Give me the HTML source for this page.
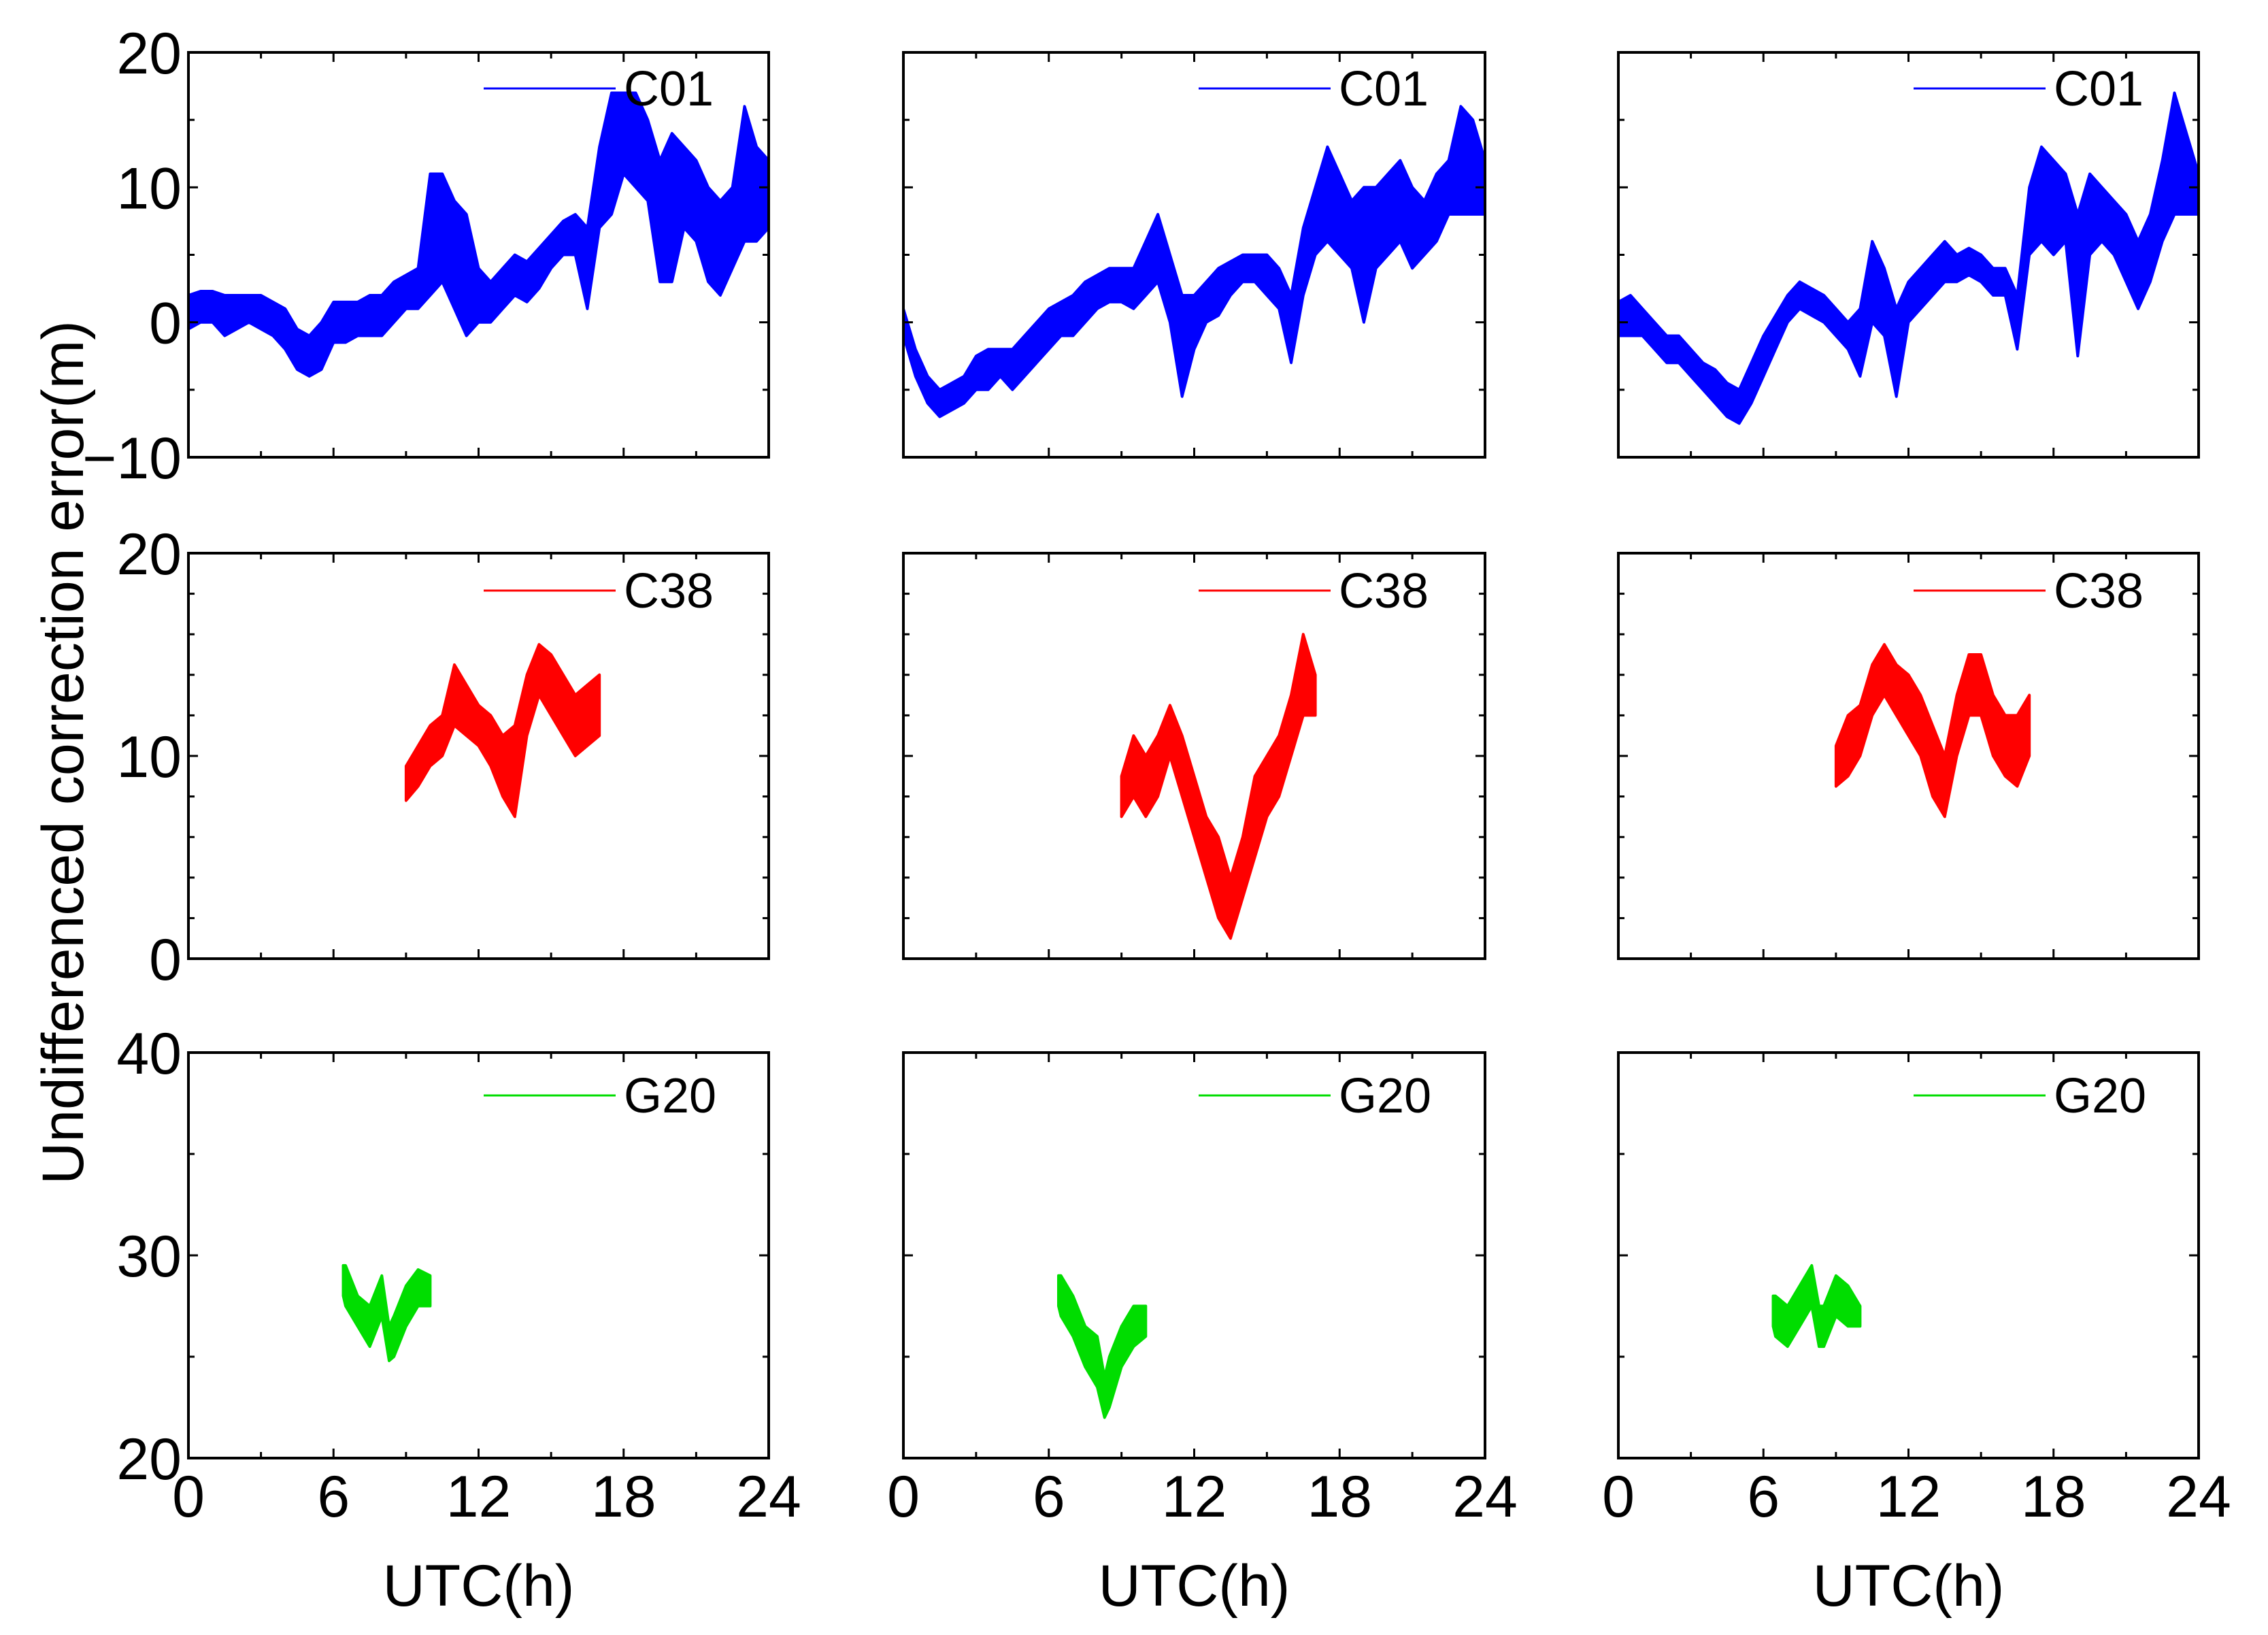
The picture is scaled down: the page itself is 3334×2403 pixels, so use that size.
<!DOCTYPE html>
<html><head><meta charset="utf-8"><style>
html,body{margin:0;padding:0;background:#fff;}
svg{display:block;}
text{font-family:"Liberation Sans",Arial,sans-serif;fill:#000;}
</style></head><body>
<svg id="fig" width="3334" height="2403" viewBox="0 0 3334 2403" xmlns="http://www.w3.org/2000/svg">
<rect x="0" y="0" width="3334" height="2403" fill="#fff"/>
<text x="0" y="0" font-size="86" text-anchor="middle" transform="translate(122,1106) rotate(-90)">Undifferenced correction error(m)</text>
</svg>
<script>
// ---- data ----
const hoursHalf = [0,0.5,1,1.5,2,2.5,3,3.5,4,4.5,5,5.5,6,6.5,7,7.5,8,8.5,9,9.5,10,10.5,11,11.5,12,12.5,13,13.5,14,14.5,15,15.5,16,16.5,17,17.5,18,18.5,19,19.5,20,20.5,21,21.5,22,22.5,23,23.5,24];
const c01aLo = [-0.5,0,0,-1,-0.5,0,-0.5,-1,-2,-3.5,-4,-3.5,-1.5,-1.5,-1,-1,-1,0,1,1,2,3,1,-1,0,0,1,2,1.5,2.5,4,5,5,1,7,8,11,10,9,3,3,7,6,3,2,4,6,6,7];
const c01aHi = [2,2.3,2.3,2,2,2,2,1.5,1,-0.5,-1,0,1.5,1.5,1.5,2,2,3,3.5,4,11,11,9,8,4,3,4,5,4.5,5.5,6.5,7.5,8,7,13,17,17,17,15,12,14,13,12,10,9,10,16,13,12];
const c01bLo = [-1,-4,-6,-7,-6.5,-6,-5,-5,-4,-5,-4,-3,-2,-1,-1,0,1,1.5,1.5,1,2,3,0,-5.5,-2,0,0.5,2,3,3,2,1,-3,2,5,6,5,4,0,4,5,6,4,5,6,8,8,8,8];
const c01bHi = [1,-2,-4,-5,-4.5,-4,-2.5,-2,-2,-2,-1,0,1,1.5,2,3,3.5,4,4,4,6,8,5,2,2,3,4,4.5,5,5,5,4,2,7,10,13,11,9,10,10,11,12,10,9,11,12,16,15,12];
const c01cLo = [-1,-1,-1,-2,-3,-3,-4,-5,-6,-7,-7.5,-6,-4,-2,0,1,0.5,0,-1,-2,-4,0,-1,-5.5,0,1,2,3,3,3.5,3,2,2,-2,5,6,5,6,-2.5,5,6,5,3,1,3,6,8,8,8];
const c01cHi = [1.5,2,1,0,-1,-1,-2,-3,-3.5,-4.5,-5,-3,-1,0.5,2,3,2.5,2,1,0,1,6,4,1,3,4,5,6,5,5.5,5,4,4,2,10,13,12,11,8,11,10,9,8,6,8,12,17,14,11];

const c38Hours = [9,9.5,10,10.5,11,11.5,12,12.5,13,13.5,14,14.5,15,15.5,16,16.5,17];
const c38aLo = [7.8,8.5,9.5,10,11.5,11,10.5,9.5,8,7,11,13,12,11,10,10.5,11];
const c38aHi = [9.5,10.5,11.5,12,14.5,13.5,12.5,12,11,11.5,14,15.5,15,14,13,13.5,14];
const c38bLo = [7,8,7,8,10,8,6,4,2,1,3,5,7,8,10,12,12];
const c38bHi = [9,11,10,11,12.5,11,9,7,6,4,6,9,10,11,13,16,14];
const c38cLo = [8.5,9,10,12,13,12,11,10,8,7,10,12,12,10,9,8.5,10];
const c38cHi = [10.5,12,12.5,14.5,15.5,14.5,14,13,11.5,10,13,15,15,13,12,12,13];

const g20Hours = [6.4,6.5,7,7.5,8,8.3,8.5,9,9.5,10];
const g20aLo = [28,27.5,26.5,25.5,27,24.8,25,26.5,27.5,27.5];
const g20aHi = [29.5,29.5,28,27.5,29,26.5,27,28.5,29.3,29];
const g20bLo = [27.5,27,26,24.5,23.5,22,22.5,24.5,25.5,26];
const g20bHi = [29,29,28,26.5,26,24,25,26.5,27.5,27.5];
const g20cLo = [26.5,26,25.5,26.5,27.5,25.5,25.5,27,26.5,26.5];
const g20cHi = [28,28,27.5,28.5,29.5,27.5,27.5,29,28.5,27.5];

const xTicks = ['0','6','12','18','24'];
const rowYTicks = [['20','10','0','\u221210'],['20','10','0'],['40','30','20']];

// ---- layout ----
const NS='http://www.w3.org/2000/svg';
const svg=document.getElementById('fig');
const colX=[[277,1130],[1328,2183],[2379,3232]];
const rowY=[[77,672],[813,1409],[1547,2143]];
const rowDom=[[-10,20],[0,20],[20,40]];
const rowMinor=[5,2,5];
const rowMajor=[10,10,10];
const colors=['#0000ff','#ff0000','#00dd00'];
const legNames=['C01','C38','G20'];
const series=[
 [[hoursHalf,c01aLo,c01aHi],[hoursHalf,c01bLo,c01bHi],[hoursHalf,c01cLo,c01cHi]],
 [[c38Hours,c38aLo,c38aHi],[c38Hours,c38bLo,c38bHi],[c38Hours,c38cLo,c38cHi]],
 [[g20Hours,g20aLo,g20aHi],[g20Hours,g20bLo,g20bHi],[g20Hours,g20cLo,g20cHi]]
];
function mk(tag,attrs,parent){const e=document.createElementNS(NS,tag);for(const k in attrs)e.setAttribute(k,attrs[k]);(parent||svg).appendChild(e);return e;}

for(let r=0;r<3;r++){
 for(let c=0;c<3;c++){
  const [x0,x1]=colX[c],[y0,y1]=rowY[r],[d0,d1]=rowDom[r];
  const xs=h=>x0+(h/24)*(x1-x0);
  const ys=v=>y1-(v-d0)/(d1-d0)*(y1-y0);
  const g=mk('g',{});
  
  
  const [hs,lo,hi]=series[r][c];
  let pts=[];
  for(let i=0;i<hs.length;i++)pts.push(xs(hs[i]).toFixed(1)+','+ys(hi[i]).toFixed(1));
  for(let i=hs.length-1;i>=0;i--)pts.push(xs(hs[i]).toFixed(1)+','+ys(lo[i]).toFixed(1));
  const band=mk('polygon',{points:pts.join(' '),fill:colors[r],stroke:colors[r],'stroke-width':4,'stroke-linejoin':'round'},g);
  
  
  for(let h=0;h<=24;h+=3){
   const L=(h%6===0)?14:9;const X=xs(h);
   mk('line',{x1:X,x2:X,y1:y1,y2:y1-L,stroke:'#000','stroke-width':3},g);
   mk('line',{x1:X,x2:X,y1:y0,y2:y0+L,stroke:'#000','stroke-width':3},g);
  }
  for(let v=d0;v<=d1;v+=rowMinor[r]){
   const L=((v-d0)%rowMajor[r]===0)?14:9;const Y=ys(v);
   mk('line',{x1:x0,x2:x0+L,y1:Y,y2:Y,stroke:'#000','stroke-width':3},g);
   mk('line',{x1:x1,x2:x1-L,y1:Y,y2:Y,stroke:'#000','stroke-width':3},g);
  }
  const fr=mk('rect',{x:x0,y:y0,width:x1-x0,height:y1-y0,fill:'none',stroke:'#000','stroke-width':4},g);
  
  
  const ly=y0+(r===0?53:(r===1?55:63));
  const ll=mk('line',{x1:x0+434,x2:x0+628,y1:ly,y2:ly,stroke:colors[r],'stroke-width':3},g);
  
  
  const lt=mk('text',{x:x0+640,y:ly+25,'font-size':72},g);
  lt.textContent=legNames[r];
  
  
  if(c===0){
   const labs=rowYTicks[r];
   for(let i=0;i<labs.length;i++){
    const v=d1-i*rowMajor[r];
    const t=mk('text',{x:x0-10,y:ys(v)+31,'font-size':86,'text-anchor':'end'},g);
    t.textContent=labs[i];
    
    
   }
  }
  if(r===2){
   for(let i=0;i<xTicks.length;i++){
    const t=mk('text',{x:xs(+xTicks[i]),y:2229,'font-size':86,'text-anchor':'middle'},g);
    t.textContent=xTicks[i];
    
    
   }
   const xt=mk('text',{x:(x0+x1)/2,y:2360,'font-size':86,'text-anchor':'middle'},g);
   xt.textContent='UTC(h)';
   
   
  }
 }
}
</script>
</body></html>
